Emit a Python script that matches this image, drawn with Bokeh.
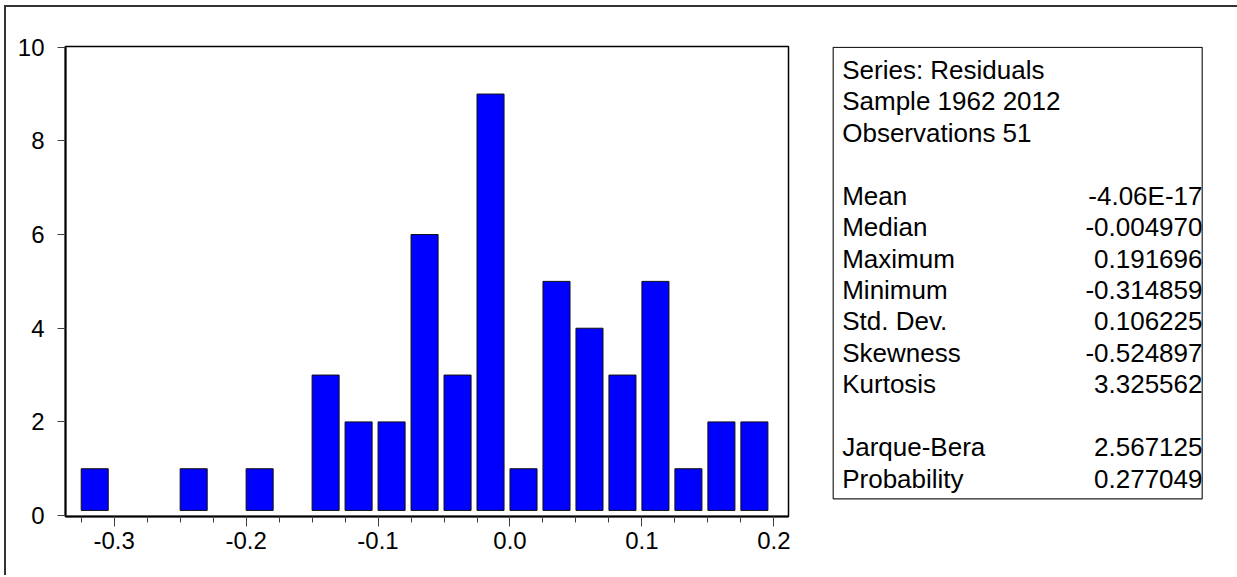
from bokeh.plotting import figure
from bokeh.models import Range1d, FixedTicker, PrintfTickFormatter, ColumnDataSource
from bokeh.layouts import row
from bokeh.embed import file_html
from bokeh.resources import INLINE
from bokeh.core.properties import value

# ---------------- data ----------------
bin_edges = [-0.325, -0.300, -0.275, -0.250, -0.225, -0.200, -0.175,
             -0.150, -0.125, -0.100, -0.075, -0.050, -0.025, 0.000,
             0.025, 0.050, 0.075, 0.100, 0.125, 0.150, 0.175]
counts = [1, 0, 0, 1, 0, 1, 0, 3, 2, 2, 6, 3, 9, 1, 5, 4, 3, 5, 1, 2, 2]

x_ticks = [-0.3, -0.2, -0.1, 0.0, 0.1, 0.2]
x_minor_ticks = [-0.325, -0.300, -0.275, -0.250, -0.225, -0.200, -0.175,
                 -0.150, -0.125, -0.100, -0.075, -0.050, -0.025, 0.000,
                 0.025, 0.050, 0.075, 0.100, 0.125, 0.150, 0.175, 0.200]
y_ticks = [0, 2, 4, 6, 8, 10]

header_lines = ["Series: Residuals", "Sample 1962 2012", "Observations 51"]
stat_names = ["Mean", "Median", "Maximum", "Minimum", "Std. Dev.",
              "Skewness", "Kurtosis"]
stat_values = ["-4.06E-17", "-0.004970", "0.191696", "-0.314859",
               "0.106225", "-0.524897", "3.325562"]
test_names = ["Jarque-Bera", "Probability"]
test_values = ["2.567125", "0.277049"]

# ---------------- styles / layout ----------------
FONT = value("Liberation Sans")
BAR_FRACTION = 0.82      # bar width as a fraction of the bin width
BAR_LIFT = 0.11          # bars float slightly above the axis (count units)
BIN_WIDTH = 0.025

ORIGIN_X, ORIGIN_Y = 6, 7          # page position of the content (inside border)
FIG_H = 568
W1 = 800
W2 = 431
FRAME_L, FRAME_R, FRAME_T, FRAME_B = 65, 788, 46, 516   # page coords

MB_TOP = FRAME_T - ORIGIN_Y
MB_BOTTOM = ORIGIN_Y + FIG_H - FRAME_B

# ---------------- histogram ----------------
lefts = [e for e, c in zip(bin_edges, counts) if c > 0]
tops = [c for c in counts if c > 0]
src = ColumnDataSource(dict(
    left=lefts,
    right=[e + BIN_WIDTH * BAR_FRACTION for e in lefts],
    top=tops,
    bottom=[BAR_LIFT] * len(tops),
))

p = figure(width=W1, height=FIG_H,
           x_range=Range1d(-0.3369, 0.2111), y_range=Range1d(-0.02, 10.015),
           output_backend="svg", toolbar_location=None,
           min_border_left=FRAME_L - ORIGIN_X,
           min_border_right=ORIGIN_X + W1 - FRAME_R,
           min_border_top=MB_TOP, min_border_bottom=MB_BOTTOM,
           background_fill_color="white", border_fill_color="white")
p.quad(left="left", right="right", top="top", bottom="bottom", source=src,
       fill_color="#0000FF", line_color="#111111", line_width=1)

p.grid.visible = False
p.outline_line_color = "black"
p.outline_line_width = 1.5
p.outline_line_alpha = 1.0

for ax in (p.xaxis[0], p.yaxis[0]):
    ax.axis_line_color = "black"
    ax.axis_line_width = 2
    ax.major_tick_line_color = "#404040"
    ax.minor_tick_line_color = "#404040"
    ax.major_tick_line_width = 1
    ax.minor_tick_line_width = 1
    ax.major_tick_in = 0
    ax.minor_tick_in = 0
    ax.major_label_text_font = "Liberation Sans"
    ax.major_label_text_font_size = "24px"
    ax.major_label_text_color = "black"

p.xaxis.ticker = FixedTicker(ticks=x_ticks, minor_ticks=x_minor_ticks)
p.xaxis.formatter = PrintfTickFormatter(format="%.1f")
p.xaxis.major_tick_out = 10
p.xaxis.minor_tick_out = 6
p.xaxis.major_label_standoff = 5

p.yaxis.ticker = FixedTicker(ticks=y_ticks, minor_ticks=[])
p.yaxis.major_tick_out = 8
p.yaxis.minor_tick_out = 0
p.yaxis.major_label_standoff = 13

# ---------------- statistics panel (page-pixel coordinates) ----------------
X0 = ORIGIN_X + W1
p2 = figure(width=W2, height=FIG_H,
            x_range=Range1d(X0, X0 + W2), y_range=Range1d(FRAME_B, FRAME_T),
            output_backend="svg", toolbar_location=None,
            x_axis_location=None, y_axis_location=None,
            min_border_left=0, min_border_right=0,
            min_border_top=MB_TOP, min_border_bottom=MB_BOTTOM,
            background_fill_color="white", border_fill_color="white")
p2.grid.visible = False
p2.outline_line_color = None

BOX_L, BOX_R, BOX_T, BOX_B = 832.7, 1201.7, 46.8, 498.3
p2.quad(left=[BOX_L], right=[BOX_R], top=[BOX_T], bottom=[BOX_B],
        fill_color=None, line_color="#222222", line_width=1.2)

ROW0, ROW_STEP = 69.3, 31.46
TXT_L, TXT_R = 841.7, 1202.0

left_texts = header_lines + [""] + stat_names + [""] + test_names
right_texts = [""] * len(header_lines) + [""] + stat_values + [""] + test_values
rows_y = [ROW0 + i * ROW_STEP for i in range(len(left_texts))]

lsrc = ColumnDataSource(dict(
    x=[TXT_L] * len(left_texts), y=rows_y, t=left_texts))
rsrc = ColumnDataSource(dict(
    x=[TXT_R] * len(right_texts), y=rows_y, t=right_texts))

p2.text(x="x", y="y", text="t", source=lsrc, text_font=FONT,
        text_font_size="26px", text_baseline="middle", text_align="left",
        text_color="black")
p2.text(x="x", y="y", text="t", source=rsrc, text_font=FONT,
        text_font_size="26px", text_baseline="middle", text_align="right",
        text_color="black")

layout = row(p, p2, styles={"border-left": "2px solid #333333",
                            "border-top": "2px solid #333333",
                            "position": "absolute",
                            "left": "%dpx" % (ORIGIN_X - 2),
                            "top": "%dpx" % (ORIGIN_Y - 2)})

open("out.html", "w").write(file_html(layout, INLINE))
